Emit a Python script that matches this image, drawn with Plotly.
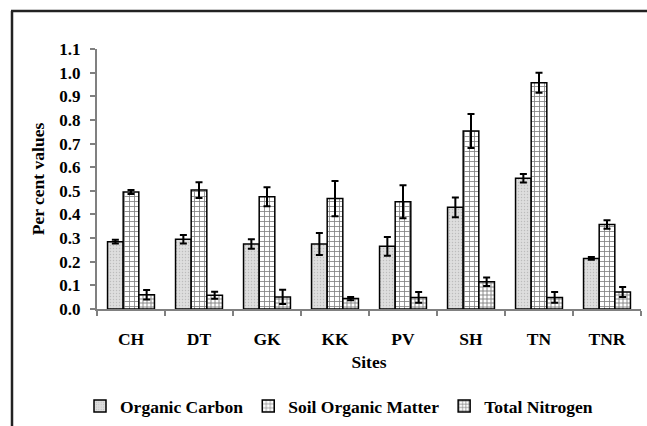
import plotly.graph_objects as go

sites = ["CH", "DT", "GK", "KK", "PV", "SH", "TN", "TNR"]
organic_carbon = [0.285, 0.295, 0.275, 0.275, 0.265, 0.43, 0.553, 0.214]
organic_carbon_err = [0.008, 0.018, 0.02, 0.047, 0.04, 0.042, 0.018, 0.006]
soil_organic_matter = [0.495, 0.503, 0.475, 0.467, 0.454, 0.753, 0.957, 0.357]
soil_organic_matter_err = [0.008, 0.033, 0.04, 0.075, 0.07, 0.072, 0.042, 0.018]
total_nitrogen = [0.06, 0.058, 0.051, 0.044, 0.049, 0.115, 0.049, 0.072]
total_nitrogen_err = [0.02, 0.015, 0.03, 0.007, 0.023, 0.018, 0.023, 0.021]
y_ticks = [0.0, 0.1, 0.2, 0.3, 0.4, 0.5, 0.6, 0.7, 0.8, 0.9, 1.0, 1.1]

FONT = "Liberation Serif, Times New Roman, serif"
W, H = 647, 426
L, R, T, B = 97, 6, 49, 117
PW, PH = W - L - R, H - T - B


def px2paper_x(px):
    return (px - L) / PW


def px2paper_y(py):
    return (H - B - py) / PH


def bold(s):
    return f"<b>{s}</b>"


err_style = dict(type="data", visible=True, thickness=2, width=3.5, color="black")

fig = go.Figure()
fig.add_trace(go.Bar(
    name=bold("Organic Carbon"), x=sites, y=organic_carbon,
    error_y=dict(array=organic_carbon_err, **err_style),
    marker=dict(color="#d8d8d8", line=dict(color="black", width=1.5),
                pattern=dict(shape=".", fgcolor="#999999", bgcolor="#dedede", size=3, solidity=0.2)),
))
fig.add_trace(go.Bar(
    name=bold("Soil Organic Matter"), x=sites, y=soil_organic_matter,
    error_y=dict(array=soil_organic_matter_err, **err_style),
    marker=dict(color="white", line=dict(color="black", width=1.5),
                pattern=dict(shape="+", fgcolor="black", bgcolor="white", size=5, solidity=0.3)),
))
fig.add_trace(go.Bar(
    name=bold("Total Nitrogen"), x=sites, y=total_nitrogen,
    error_y=dict(array=total_nitrogen_err, **err_style),
    marker=dict(color="white", line=dict(color="black", width=1.5),
                pattern=dict(shape="+", fgcolor="black", bgcolor="white", size=4, solidity=0.4)),
))

fig.update_layout(
    width=W, height=H,
    margin=dict(l=L, r=R, t=T, b=B, pad=0, autoexpand=False),
    paper_bgcolor="white", plot_bgcolor="white",
    barmode="group", bargap=0.31, bargroupgap=0,
    font=dict(family=FONT, color="black", size=16),
    showlegend=True,
    legend=dict(orientation="h", xref="container", yref="container",
                x=339 / W, xanchor="center",
                y=(H - 406) / H, yanchor="middle",
                font=dict(family=FONT, size=17.5, color="black"),
                itemwidth=30, traceorder="normal", tracegroupgap=0),
    xaxis=dict(
        automargin=False,
        showline=True, linecolor="#808080", linewidth=2,
        ticks="outside", tickson="boundaries", ticklen=5, tickwidth=2, tickcolor="#808080",
        tickvals=sites, ticktext=[bold(s) for s in sites],
        tickfont=dict(family=FONT, size=17.5, color="black"),
        ticklabelstandoff=13,
        title=dict(text=bold("Sites"), font=dict(family=FONT, size=17.5, color="black"), standoff=8),
        showgrid=False, zeroline=False,
    ),
    yaxis=dict(
        automargin=False,
        range=[0, 1.1], tickvals=y_ticks, ticktext=[bold(f"{v:.1f}") for v in y_ticks],
        showline=True, linecolor="#808080", linewidth=2,
        ticks="outside", ticklen=5, tickwidth=2, tickcolor="#808080",
        tickfont=dict(family=FONT, size=17, color="black"),
        ticklabelstandoff=6,
        title=dict(text=bold("Per cent values"), font=dict(family=FONT, size=17.5, color="black"), standoff=10),
        showgrid=False, zeroline=False,
    ),
    shapes=[
        dict(type="line", xref="paper", yref="paper",
             x0=px2paper_x(11), x1=px2paper_x(648), y0=px2paper_y(11), y1=px2paper_y(11),
             line=dict(color="#222222", width=2.5)),
        dict(type="line", xref="paper", yref="paper",
             x0=px2paper_x(12), x1=px2paper_x(12), y0=px2paper_y(11), y1=px2paper_y(427),
             line=dict(color="#222222", width=2.5)),
    ],
)

fig.write_html("out.html")
